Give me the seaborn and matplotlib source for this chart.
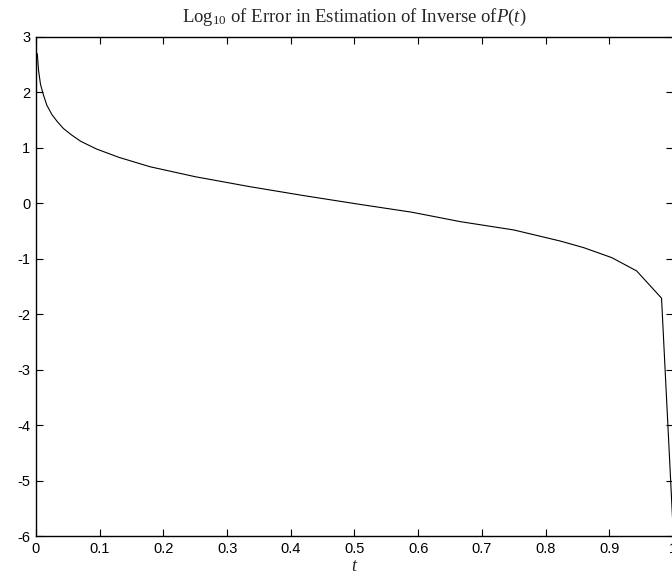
import numpy as np
import pandas as pd
import matplotlib
matplotlib.use("Agg")
import matplotlib.pyplot as plt
import seaborn as sns

# values
t_vals = [0.002, 0.004, 0.007, 0.0115, 0.017, 0.025, 0.033, 0.043, 0.055, 0.07,
          0.095, 0.13, 0.179, 0.25, 0.336, 0.42, 0.509, 0.59, 0.666, 0.75,
          0.823, 0.86, 0.904, 0.943, 0.982, 1.0]
log_err = [2.70, 2.40, 2.15, 1.96, 1.77, 1.60, 1.48, 1.35, 1.24, 1.12,
           0.98, 0.83, 0.66, 0.48, 0.30, 0.14, -0.02, -0.16, -0.33, -0.48,
           -0.68, -0.80, -0.98, -1.22, -1.71, -5.85]

x_ticks = [0, 0.1, 0.2, 0.3, 0.4, 0.5, 0.6, 0.7, 0.8, 0.9, 1]
x_tick_labels = ["0", "0.1", "0.2", "0.3", "0.4", "0.5", "0.6", "0.7", "0.8", "0.9", "1"]
y_ticks = [3, 2, 1, 0, -1, -2, -3, -4, -5, -6]

df = pd.DataFrame({"t": t_vals, "err": log_err})

sns.set_style("ticks")
plt.rcParams["font.family"] = ["Liberation Sans", "DejaVu Sans"]
plt.rcParams["axes.unicode_minus"] = False
plt.rcParams["mathtext.fontset"] = "custom"
plt.rcParams["mathtext.rm"] = "Liberation Serif"
plt.rcParams["mathtext.it"] = "Liberation Serif:italic"

fig = plt.figure(figsize=(6.72, 5.78), dpi=100)
ax = fig.add_axes([36 / 672, 42 / 578, 637 / 672, 499 / 578])

sns.lineplot(data=df, x="t", y="err", ax=ax, color="black", linewidth=0.8)

ax.set_xlim(0, 1)
ax.set_ylim(-6, 3)
ax.set_xticks(x_ticks)
ax.set_xticklabels(x_tick_labels)
ax.set_yticks(y_ticks)
ax.set_yticklabels([str(v) for v in y_ticks])
ax.tick_params(direction="in", length=5, width=0.8, labelsize=10.5, pad=4,
               top=True, right=True, colors="black")
for s in ax.spines.values():
    s.set_visible(True)
    s.set_linewidth(1.0)
    s.set_color("black")

ax.set_xlabel("$t$", fontsize=13, labelpad=2)
ax.set_ylabel("")
ax.set_title(r"Log$_{10}$ of Error in Estimation of Inverse of$P$($t$)",
             family="Liberation Serif", fontsize=13.5, pad=11)

fig.savefig("out.png", dpi=100)
